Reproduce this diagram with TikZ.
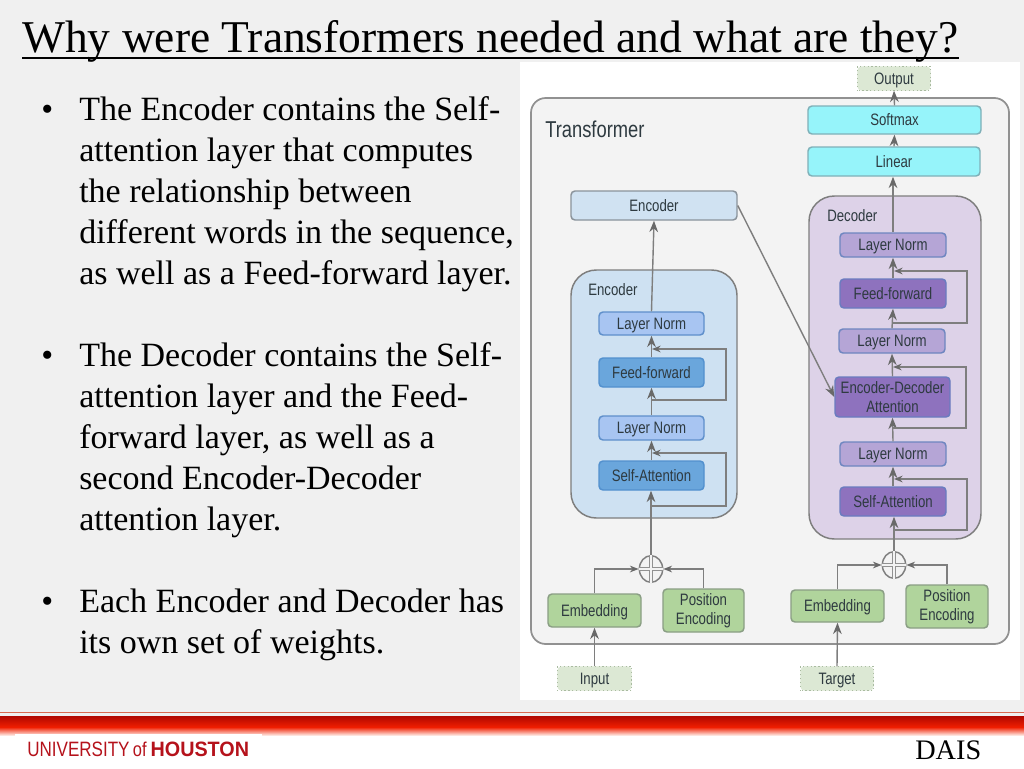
\documentclass[tikz,border=0pt]{standalone}
\usepackage{fontspec}
\setmainfont{Liberation Serif}
\newfontfamily\diagfont[FakeStretch=0.8]{Liberation Sans}
\newfontfamily\logoa[FakeStretch=0.82]{Liberation Sans}
\newfontfamily\logob[FakeStretch=0.95]{Liberation Sans}
\usetikzlibrary{arrows.meta,shapes.geometric}
\definecolor{slidebg}{HTML}{F0F0F0}
\definecolor{panelbg}{HTML}{F3F3F3}
\definecolor{edgegrey}{HTML}{7E7E7E}
\definecolor{tipgrey}{HTML}{696969}
\definecolor{inktext}{HTML}{2E3A40}
\definecolor{uhred}{HTML}{B5121B}
\tikzset{
  x=0.75pt,y=-0.75pt,
  boxbase/.style={draw=#1,line width=1.1pt,rounded corners=3pt,inner sep=0pt,align=center,text=inktext,
     font=\diagfont\fontsize{12.4pt}{14.2pt}\selectfont},
  oneline/.style={text height=8.9pt,text depth=0.5pt},
  flow/.style={draw=edgegrey,line width=1.05pt,-{Stealth[length=8.5pt,width=6.5pt,color=tipgrey]}},
  fback/.style={draw=edgegrey,line width=1.05pt,-{Stealth[length=6.5pt,width=5pt,color=tipgrey]}},
  bodytext/.style={anchor=base west,inner sep=0pt,align=left,font=\fontsize{25.5pt}{30.75pt}\selectfont},
  bulletmark/.style={anchor=base west,inner sep=0pt,font=\fontsize{25.5pt}{30.75pt}\selectfont},
  grouplabel/.style={anchor=base west,inner sep=0pt,text=inktext,font=\diagfont\fontsize{12.4pt}{14pt}\selectfont},
  adder/.style={draw=edgegrey,line width=1.1pt,fill=panelbg,inner sep=0pt,shape=ellipse,minimum width=17.5pt,minimum height=20pt},
}
\newcommand{\bx}[8]{% name, fill, draw, x0, y0, x1, y1, one-line text
  \node[boxbase={#3},oneline,fill=#2,minimum width={(#6-#4)*0.75pt},minimum height={(#7-#5)*0.75pt}] (#1) at ({(#4+#6)/2},{(#5+#7)/2}) {#8};}
\newcommand{\bxtwo}[8]{% name, fill, draw, x0, y0, x1, y1, two-line text
  \node[boxbase={#3},fill=#2,minimum width={(#6-#4)*0.75pt},minimum height={(#7-#5)*0.75pt}] (#1) at ({(#4+#6)/2},{(#5+#7)/2}) {#8};}
\definecolor{cyanf}{HTML}{96F4FA}\definecolor{cyand}{HTML}{7FB0B8}
\definecolor{pale}{HTML}{D0E2F2}\definecolor{paled}{HTML}{8A939B}
\definecolor{lblue}{HTML}{A8C5F2}\definecolor{lblued}{HTML}{5F8FCB}
\definecolor{mblue}{HTML}{6AA6DC}\definecolor{mblued}{HTML}{5290CE}
\definecolor{lpur}{HTML}{B5A5D6}\definecolor{lpurd}{HTML}{6E86C0}
\definecolor{mpur}{HTML}{8E72BE}\definecolor{mpurd}{HTML}{6A7CC0}
\definecolor{green1}{HTML}{B0D49C}\definecolor{greend}{HTML}{8A9E84}
\definecolor{dashg}{HTML}{DCE8D4}\definecolor{dashd}{HTML}{A9BBA0}
\definecolor{encg}{HTML}{CEE1F2}\definecolor{decg}{HTML}{DDD2E8}
\definecolor{thinred}{HTML}{D86A50}\definecolor{banddark}{HTML}{B00800}\definecolor{bandmid}{HTML}{F01E00}\definecolor{bandpale}{HTML}{FFF0EB}
\begin{document}
\begin{tikzpicture}
\useasboundingbox (0,0) rectangle (1024,768);
\fill[slidebg] (0,0) rectangle (1024,768);
% footer
\fill[white] (0,735) rectangle (1024,768);
\draw[thinred,line width=0.6pt] (0,712.7) -- (1024,712.7);
\shade[top color=banddark,bottom color=bandmid] (0,716) rectangle (1024,727);
\shade[top color=bandmid,bottom color=bandpale] (0,727) rectangle (1024,735.5);
\fill[white] (15,734) rectangle (262,768);
\node[anchor=base west,inner sep=0pt,text=uhred,font=\fontsize{15.6pt}{18pt}\selectfont] (logo) at (27,756)
  {{\logoa UNIVERSITY}\kern2.5pt{\logoa\fontsize{15pt}{15pt}\selectfont of}\kern3pt{\logob\bfseries HOUSTON}};
\node[anchor=base west,inner sep=0pt,font=\fontsize{21.2pt}{24pt}\selectfont] (dais) at (915,759) {DAIS};
% title
\node[anchor=base west,inner sep=0pt,font=\fontsize{34.1pt}{38pt}\selectfont] (title) at (22,52) {Why were Transformers needed and what are they?};
\draw[black,line width=1.5pt] (title.west |- 0,57.5) -- (title.east |- 0,57.5);
% body (a multi-line node's base is its last line)
\node[bulletmark] (b1) at (41,120) {•};
\node[bodytext] (p1) at (79,284) {The Encoder contains the Self-\\attention layer that computes\\the relationship between\\different words in the sequence,\\as well as a Feed-forward layer.};
\node[bulletmark] (b2) at (41,366) {•};
\node[bodytext] (p2) at (79,530) {The Decoder contains the Self-\\attention layer and the Feed-\\forward layer, as well as a\\second Encoder-Decoder\\attention layer.};
\node[bulletmark] (b3) at (41,612) {•};
\node[bodytext] (p3) at (79,653) {Each Encoder and Decoder has\\its own set of weights.};
% figure panel
\fill[white] (520,62) rectangle (1020,700);
\draw[draw=edgegrey!85,fill=panelbg,line width=1.3pt,rounded corners=11pt] (531,98) rectangle (1009,644);
\node[anchor=base west,inner sep=0pt,text=inktext,font=\diagfont\fontsize{17.2pt}{18pt}\selectfont] (tlabel) at (545,137) {Transformer};
% groups
\draw[draw=edgegrey,fill=encg,line width=1.1pt,rounded corners=19pt] (571,270) rectangle (737,518);
\draw[draw=edgegrey,fill=decg,line width=1.1pt,rounded corners=19pt] (809,196) rectangle (981,539);
\node[grouplabel] (enclabel) at (588,295) {Encoder};
\node[grouplabel] (declabel) at (827,221) {Decoder};
% boxes
\bx{output}{dashg}{dashg}{858}{67}{930}{90}{Output}
\bx{softmax}{cyanf}{cyand}{808}{106}{981}{134}{Softmax}
\bx{linear}{cyanf}{cyand}{808}{147}{980}{176}{Linear}
\bx{enctop}{pale}{paled}{571}{191}{737}{220}{Encoder}
\bx{eln1}{lblue}{lblued}{599}{312}{704}{335}{Layer Norm}
\bx{eff}{mblue}{mblued}{599}{358}{704}{387}{Feed-forward}
\bx{eln2}{lblue}{lblued}{599}{416}{704}{440}{Layer Norm}
\bx{esa}{mblue}{mblued}{599}{461}{704}{490}{Self-Attention}
\bx{dln1}{lpur}{lpurd}{840}{233}{946}{257}{Layer Norm}
\bx{dff}{mpur}{mpurd}{840}{279}{946}{308}{Feed-forward}
\bx{dln2}{lpur}{lpurd}{839}{329}{945}{353}{Layer Norm}
\bxtwo{dea}{mpur}{mpurd}{835}{377}{950}{417}{Encoder-Decoder\\Attention}
\bx{dln3}{lpur}{lpurd}{840}{442}{946}{466}{Layer Norm}
\bx{dsa}{mpur}{mpurd}{840}{487}{946}{516}{Self-Attention}
\bx{embl}{green1}{greend}{548}{594}{641}{627}{Embedding}
\bxtwo{posl}{green1}{greend}{663}{589}{744}{632}{Position\\Encoding}
\bx{embr}{green1}{greend}{791}{590}{884}{622}{Embedding}
\bxtwo{posr}{green1}{greend}{906}{585}{988}{628}{Position\\Encoding}
\bx{input}{dashg}{dashg}{558}{667}{631}{690}{Input}
\bx{target}{dashg}{dashg}{801}{667}{873}{690}{Target}
\foreach \n in {output,input,target}{\draw[dashd,dotted,line width=0.9pt] (\n.south west) rectangle (\n.north east);}
% adders
\node[adder] (addl) at (651,569) {};
\node[adder] (addr) at (894,565) {};
\foreach \n in {addl,addr}{
  \draw[edgegrey!85,line width=3.4pt] (\n.north) -- (\n.south) (\n.west) -- (\n.east);
  \draw[panelbg,line width=1.5pt] (\n.north) -- (\n.south) (\n.west) -- (\n.east);
}
% flow
\draw[flow] (softmax.north) -- (output.south);
\draw[flow] (linear.north) -- (softmax.south);
\draw[flow] (dln1.north) -- (dln1.north |- linear.south);
\draw[flow] (eln1.north) -- (enctop.south);
\draw[flow] (eff.north) -- (eln1.south);
\draw[flow] (eln2.north) -- (eff.south);
\draw[flow] (esa.north) -- (eln2.south);
\draw[flow] (dff.north) -- (dln1.south);
\draw[flow] (dln2.north) -- (dff.south);
\draw[flow] (dea.north) -- (dln2.south);
\draw[flow] (dln3.north) -- (dea.south);
\draw[flow] (dsa.north) -- (dln3.south);
\draw[flow] (addl.north) -- (addl.north |- esa.south);
\draw[flow] (addr.north) -- (addr.north |- dsa.south);
\draw[flow] (enctop.east) -- (dea.west);
\draw[flow] (input.north) -- (embl.south);
\draw[flow] (target.north) -- (embr.south);
% merges
\draw[fback] (embl.north) |- (addl.west);
\draw[fback] (posl.north) |- (addl.east);
\draw[fback] (embr.north) |- (addr.west);
\draw[fback] (posr.north) |- (addr.east);
% residual loops
\coordinate (e1s) at (651,400); \coordinate (e1e) at (652,349);
\coordinate (e2s) at (650,506); \coordinate (e2e) at (652,453);
\coordinate (d1s) at (893,323); \coordinate (d1e) at (894,271);
\coordinate (d2s) at (892,428); \coordinate (d2e) at (893,367);
\coordinate (d3s) at (893,530); \coordinate (d3e) at (894,479);
\draw[fback] (e1s) -- (726,400) -- (726,349) -- (e1e);
\draw[fback] (e2s) -- (726,506) -- (726,453) -- (e2e);
\draw[fback] (d1s) -- (967,323) -- (967,271) -- (d1e);
\draw[fback] (d2s) -- (966,428) -- (966,367) -- (d2e);
\draw[fback] (d3s) -- (967,530) -- (967,479) -- (d3e);
\end{tikzpicture}
\end{document}
